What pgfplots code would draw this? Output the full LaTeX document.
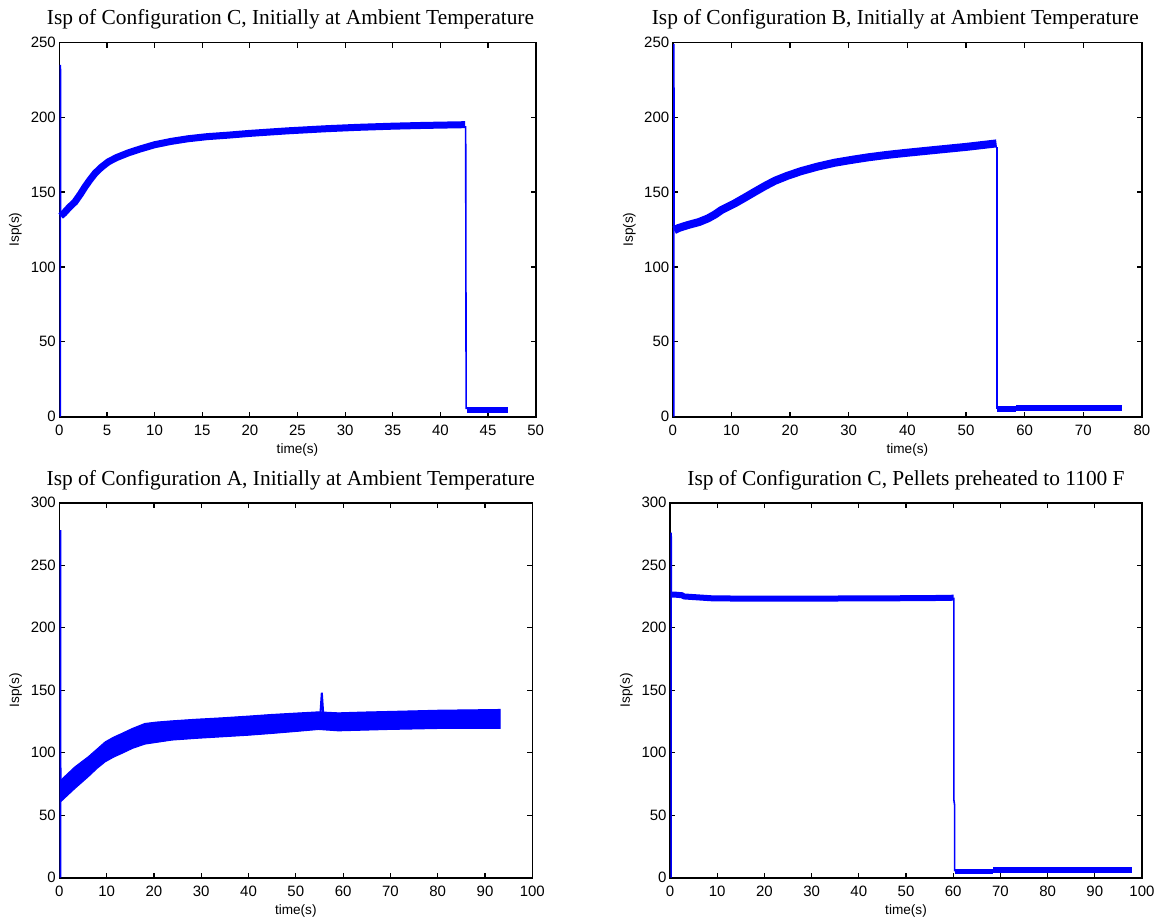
\documentclass[border=0pt]{standalone}
\usepackage{fontspec}
\setmainfont{Liberation Serif}
\setsansfont{Liberation Sans}
\usepackage{pgfplots}
\pgfplotsset{compat=1.18}
\definecolor{mblue}{RGB}{0,0,255}
\pgfplotsset{
  mstyle/.style={
    scale only axis,
    axis line style={black, line width=0.8pt},
    every tick/.style={black, line width=0.6pt},
    tick align=inside,
    major tick length=2.6pt,
    /pgf/number format/assume math mode=true,
    tick label style={font=\sffamily\fontsize{7.5}{8}\selectfont},
    xticklabel style={yshift=-0.5pt},
    yticklabel style={xshift=1.8pt},
    label style={font=\sffamily\fontsize{6.8}{7}\selectfont},
    xlabel style={at={(axis description cs:0.5,0)}, anchor=north, inner sep=0pt, yshift=-13.5pt},
    ylabel style={at={(axis description cs:-0.078,0.5)}, anchor=south, inner sep=0pt},
    title style={at={(axis description cs:0.5,1)}, anchor=base, inner sep=0pt, yshift=2.7pt, font=\fontsize{10.7}{12}\selectfont},
    xlabel={time(s)}, ylabel={Isp(s)},
    clip=false,
  },
  thin/.style={mblue, line width=0.8pt},
}
\begin{document}
\begin{tikzpicture}
\useasboundingbox (0,0) rectangle (578.5pt,-459pt);
% ---------------- Top left
\begin{axis}[mstyle, at={(29.65pt,-208.35pt)}, anchor=south west,
  width=238.2pt, height=187.2pt,
  xmin=0, xmax=50, ymin=0, ymax=250,
  xtick={0,5,...,50}, ytick={0,50,...,250},
  title={Isp of Configuration C, Initially at Ambient Temperature},
  title style={xshift=-3.5pt}]
\addplot[thin] coordinates {(0.12,0) (0.12,235) (0.14,134)};
\addplot[mblue, line width=3.5pt] coordinates {
(0.14,134) (0.5,136) (1,139.5) (1.65,143.5) (2.2,148.5) (2.7,153.5) (3.2,158)
(3.75,162.5) (4.4,166.5) (5.15,170.2) (6,173) (7.25,176.2) (8.5,178.8) (10,181.6)
(11.7,183.8) (13.5,185.6) (15.5,187) (17.7,188) (20,189.2) (24,190.9) (28,192.3)
(31.2,193.2) (35,194) (38.2,194.5) (42.6,195)};
\addplot[thin] coordinates {(42.65,194) (42.7,5)};
\addplot[mblue, line width=3.2pt] coordinates {(42.75,4.5) (47.1,4.5)};
\end{axis}
% ---------------- Top right
\begin{axis}[mstyle, at={(336.35pt,-208.35pt)}, anchor=south west,
  width=234.65pt, height=187.2pt,
  xmin=0, xmax=80, ymin=0, ymax=250,
  xtick={0,10,...,80}, ytick={0,50,...,250},
  title={Isp of Configuration B, Initially at Ambient Temperature},
  title style={xshift=-6pt}]
\addplot[thin] coordinates {(0.2,0) (0.2,249) (0.25,124.5)};
\addplot[mblue, line width=4pt] coordinates {
(0.25,124.5) (1,126) (2.6,128) (4.5,130) (6,132.4) (7.2,135) (8.3,138) (10.6,142.5)
(12.3,146.3) (14,150.2) (15.7,154) (17.4,157.5) (19.5,160.8) (21.9,164) (24.7,167)
(27.6,169.6) (30.5,171.5) (33.3,173.2) (36.5,174.8) (39.8,176.2) (44.4,178)
(50.1,180.2) (55.2,182.5)};
\addplot[thin] coordinates {(55.3,180) (55.3,5)};
\addplot[mblue, line width=3pt] coordinates {(55.35,5) (58.5,5)};
\addplot[mblue, line width=3pt] coordinates {(58.5,5.6) (76.6,5.6)};
\end{axis}
% ---------------- Bottom left
\begin{axis}[mstyle, at={(29.65pt,-438.85pt)}, anchor=south west,
  width=236.5pt, height=187.5pt,
  xmin=0, xmax=100, ymin=0, ymax=300,
  xtick={0,10,...,100}, ytick={0,50,...,300},
  title={Isp of Configuration A, Initially at Ambient Temperature},
  title style={xshift=-2.5pt}]
\addplot[thin] coordinates {(0.25,0) (0.25,278) (0.3,70)};
\addplot[mblue, fill=mblue, line width=0.5pt] coordinates {
(0.3,78) (3.3,88.7) (6.1,96.7) (8,103) (9.7,108.7) (11.5,112.5) (13.2,115.4)
(15.5,119.5) (18.1,123.4) (20.5,124.5) (23.8,125.5) (29,126.8) (34.3,127.9)
(40,129.3) (44.9,130.6) (50,131.7) (54.8,132.7) (59,131.9) (64,132.5) (69.6,133)
(75,133.5) (80.2,134) (87,134.3) (93.2,134.6)
(93.2,119.4) (80.2,119.4) (69.6,118.6) (59,117.5) (54.8,118.6) (50,117)
(44.9,115.4) (40,114) (34.3,112.7) (29,111.5) (23.8,110.1) (18.1,106.9)
(15.5,103.5) (13.2,99.4) (11.5,96.5) (9.7,92.7) (8,87.5) (6.1,80.7) (3.3,71.4)
(0.3,60.8)} -- cycle;
\addplot[mblue, line width=1pt] coordinates {(55.2,131) (55.5,148) (55.8,131)};
\end{axis}
% ---------------- Bottom right
\begin{axis}[mstyle, at={(335pt,-438.85pt)}, anchor=south west,
  width=236pt, height=187.5pt,
  xmin=0, xmax=100, ymin=0, ymax=300,
  xtick={0,10,...,100}, ytick={0,50,...,300},
  title={Isp of Configuration C, Pellets preheated to 1100 F}]
\addplot[thin] coordinates {(0.25,0) (0.25,276) (0.3,226.5)};
\addplot[mblue, line width=3pt] coordinates {
(0.3,226.5) (1,226.5) (2.5,226) (3,225) (5,224.5) (7,224) (9,223.5) (15,223.3)
(30,223.3) (45,223.5) (55,223.7) (60.1,224)};
\addplot[thin] coordinates {(60.15,224) (60.15,62) (60.3,58) (60.3,5)};
\addplot[mblue, line width=2.5pt] coordinates {(60.3,4.8) (68.5,4.8)};
\addplot[mblue, line width=2.8pt] coordinates {(68.5,6.3) (97.8,6.3)};
\end{axis}
\end{tikzpicture}
\end{document}
